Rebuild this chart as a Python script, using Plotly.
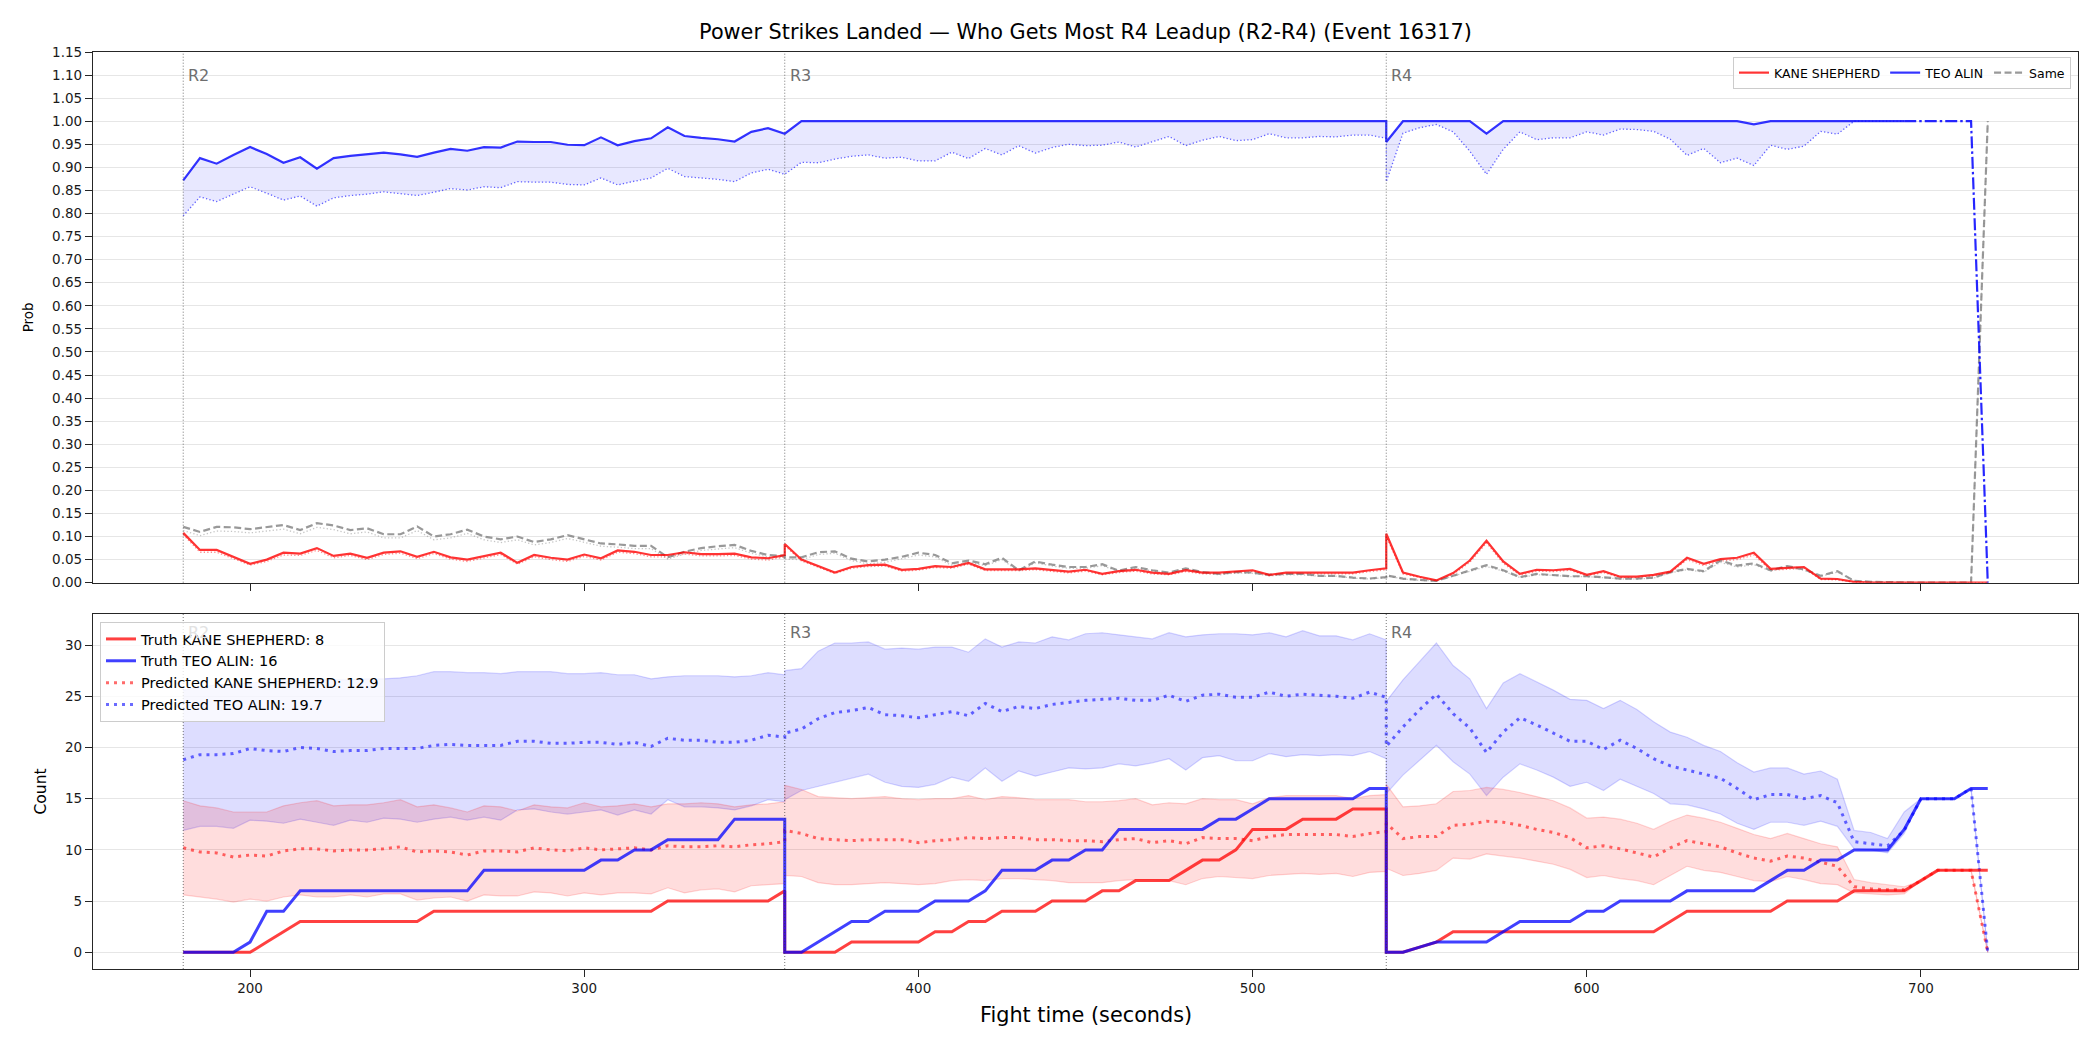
import plotly.graph_objects as go

# ---------------- time grid (three rounds, each sampled every 5 s) ----------------
t_r2 = list(range(180, 361, 5))
t_r3 = list(range(360, 541, 5))
t_r4 = list(range(540, 721, 5))
time = t_r2 + t_r3 + t_r4

# ---------------- top panel: probabilities ----------------
teo_prob_r2 = [0.872, 0.920, 0.908, 0.927, 0.944, 0.929, 0.910, 0.922, 0.897, 0.920,
               0.925, 0.928, 0.932, 0.928, 0.923, 0.932, 0.940, 0.936, 0.944, 0.943,
               0.956, 0.955, 0.955, 0.949, 0.948, 0.965, 0.948, 0.957, 0.963, 0.987,
               0.968, 0.964, 0.961, 0.956, 0.977, 0.985, 0.973]
teo_prob_r3 = [0.973] + [1.0] * 36
teo_prob_r4 = [0.955, 1.0, 1.0, 1.0, 1.0, 1.0, 0.973, 1.0, 1.0, 1.0,
               1.0, 1.0, 1.0, 1.0, 1.0, 1.0, 1.0, 1.0, 1.0, 1.0,
               1.0, 1.0, 0.993, 1.0, 1.0, 1.0, 1.0, 1.0, 1.0, 1.0,
               1.0, 1.0, 1.0, 1.0, 1.0, 1.0, 0.0]

teo_raw_r2 = [0.795, 0.836, 0.826, 0.842, 0.858, 0.844, 0.829, 0.838, 0.816, 0.834,
              0.839, 0.842, 0.847, 0.843, 0.839, 0.846, 0.854, 0.851, 0.858, 0.856,
              0.869, 0.868, 0.868, 0.863, 0.862, 0.877, 0.862, 0.870, 0.877, 0.898,
              0.880, 0.877, 0.874, 0.869, 0.888, 0.896, 0.885]
teo_raw_r3 = [0.885, 0.911, 0.910, 0.918, 0.924, 0.927, 0.920, 0.922, 0.914, 0.914,
              0.933, 0.919, 0.941, 0.927, 0.947, 0.931, 0.943, 0.950, 0.947, 0.948,
              0.955, 0.944, 0.955, 0.967, 0.947, 0.959, 0.967, 0.958, 0.960, 0.973,
              0.964, 0.964, 0.967, 0.966, 0.970, 0.970, 0.963]
teo_raw_r4 = [0.869, 0.974, 0.986, 0.993, 0.977, 0.935, 0.885, 0.939, 0.977, 0.960,
              0.964, 0.964, 0.977, 0.970, 0.983, 0.982, 0.978, 0.961, 0.926, 0.941,
              0.910, 0.920, 0.904, 0.948, 0.939, 0.946, 0.978, 0.972, 1.0, 1.0,
              1.0, 1.0, 1.0, 1.0, 1.0, 1.0, 0.0]

kane_prob_r2 = [0.108, 0.071, 0.071, 0.056, 0.041, 0.050, 0.065, 0.063, 0.075, 0.058,
                0.063, 0.054, 0.065, 0.068, 0.056, 0.067, 0.055, 0.050, 0.057, 0.065,
                0.043, 0.060, 0.054, 0.050, 0.061, 0.053, 0.070, 0.067, 0.060, 0.060,
                0.066, 0.062, 0.062, 0.063, 0.055, 0.053, 0.060]
kane_prob_r3 = [0.084, 0.050, 0.036, 0.022, 0.034, 0.038, 0.039, 0.028, 0.030, 0.036,
                0.034, 0.043, 0.029, 0.029, 0.029, 0.031, 0.027, 0.024, 0.028, 0.019,
                0.025, 0.028, 0.022, 0.019, 0.027, 0.022, 0.022, 0.025, 0.027, 0.017,
                0.022, 0.022, 0.022, 0.022, 0.022, 0.027, 0.031]
kane_prob_r4 = [0.106, 0.022, 0.013, 0.005, 0.021, 0.048, 0.091, 0.046, 0.019, 0.028,
                0.027, 0.030, 0.017, 0.025, 0.013, 0.013, 0.017, 0.024, 0.054, 0.041,
                0.051, 0.054, 0.065, 0.030, 0.032, 0.034, 0.009, 0.008, 0.002, 0.0,
                0.0, 0.0, 0.0, 0.0, 0.0, 0.0, 0.0]

kane_raw_r2 = [0.104, 0.066, 0.066, 0.052, 0.038, 0.046, 0.060, 0.059, 0.070, 0.054,
               0.059, 0.050, 0.061, 0.064, 0.052, 0.063, 0.051, 0.046, 0.053, 0.061,
               0.040, 0.056, 0.050, 0.046, 0.057, 0.049, 0.066, 0.063, 0.056, 0.056,
               0.062, 0.058, 0.058, 0.059, 0.051, 0.049, 0.056]
kane_raw_r3 = [0.080, 0.047, 0.033, 0.020, 0.031, 0.035, 0.036, 0.025, 0.027, 0.033,
               0.031, 0.040, 0.026, 0.026, 0.026, 0.028, 0.024, 0.021, 0.025, 0.017,
               0.022, 0.025, 0.019, 0.017, 0.024, 0.019, 0.019, 0.022, 0.024, 0.015,
               0.019, 0.019, 0.019, 0.019, 0.019, 0.024, 0.028]
kane_raw_r4 = [0.100, 0.019, 0.011, 0.004, 0.018, 0.044, 0.086, 0.042, 0.016, 0.025,
               0.024, 0.027, 0.015, 0.022, 0.011, 0.011, 0.015, 0.021, 0.050, 0.037,
               0.047, 0.050, 0.060, 0.027, 0.029, 0.031, 0.007, 0.006, 0.001, 0.0,
               0.0, 0.0, 0.0, 0.0, 0.0, 0.0, 0.0]

same_prob_r2 = [0.121, 0.110, 0.121, 0.120, 0.116, 0.121, 0.125, 0.114, 0.129, 0.124,
                0.114, 0.118, 0.105, 0.105, 0.122, 0.100, 0.105, 0.115, 0.100, 0.094,
                0.100, 0.088, 0.094, 0.103, 0.094, 0.085, 0.083, 0.080, 0.080, 0.055,
                0.067, 0.075, 0.079, 0.082, 0.069, 0.060, 0.058]
same_prob_r3 = [0.055, 0.055, 0.066, 0.068, 0.052, 0.046, 0.050, 0.056, 0.065, 0.060,
                0.042, 0.048, 0.040, 0.054, 0.027, 0.046, 0.039, 0.034, 0.034, 0.040,
                0.026, 0.034, 0.027, 0.022, 0.031, 0.023, 0.019, 0.023, 0.022, 0.017,
                0.019, 0.019, 0.015, 0.015, 0.011, 0.009, 0.012]
same_prob_r4 = [0.016, 0.009, 0.006, 0.004, 0.015, 0.027, 0.038, 0.027, 0.012, 0.019,
                0.017, 0.014, 0.014, 0.012, 0.009, 0.009, 0.011, 0.023, 0.030, 0.025,
                0.048, 0.037, 0.042, 0.027, 0.036, 0.029, 0.015, 0.025, 0.004, 0.002,
                0.001, 0.0, 0.0, 0.0, 0.0, 0.0, 1.0]

same_raw_r2 = [0.113, 0.102, 0.112, 0.111, 0.108, 0.112, 0.116, 0.106, 0.120, 0.115,
               0.106, 0.110, 0.097, 0.097, 0.113, 0.093, 0.097, 0.107, 0.093, 0.087,
               0.093, 0.082, 0.087, 0.096, 0.087, 0.079, 0.077, 0.074, 0.074, 0.051,
               0.062, 0.070, 0.073, 0.076, 0.064, 0.056, 0.054]
same_raw_r3 = [0.051, 0.050, 0.061, 0.064, 0.048, 0.041, 0.044, 0.052, 0.060, 0.056,
               0.037, 0.044, 0.037, 0.050, 0.025, 0.043, 0.036, 0.031, 0.031, 0.037,
               0.024, 0.031, 0.025, 0.020, 0.029, 0.021, 0.017, 0.021, 0.020, 0.015,
               0.017, 0.017, 0.014, 0.014, 0.010, 0.008, 0.011]
same_raw_r4 = [0.015, 0.008, 0.005, 0.004, 0.014, 0.025, 0.035, 0.025, 0.011, 0.017,
               0.016, 0.013, 0.013, 0.011, 0.008, 0.008, 0.010, 0.021, 0.028, 0.023,
               0.044, 0.034, 0.039, 0.025, 0.033, 0.027, 0.014, 0.023, 0.004, 0.002,
               0.001, 0.0, 0.0, 0.0, 0.0, 0.0, 1.0]

# ---------------- bottom panel: counts ----------------
truth_teo_r2 = [0, 0, 0, 0, 1, 4, 4, 6, 6, 6, 6, 6, 6, 6, 6, 6, 6, 6, 8, 8,
                8, 8, 8, 8, 8, 9, 9, 10, 10, 11, 11, 11, 11, 13, 13, 13, 13]
truth_teo_r3 = [0, 0, 1, 2, 3, 3, 4, 4, 4, 5, 5, 5, 6, 8, 8, 8, 9, 9, 10, 10,
                12, 12, 12, 12, 12, 12, 13, 13, 14, 15, 15, 15, 15, 15, 15, 16, 16]
truth_teo_r4 = [0, 0, 0.5, 1, 1, 1, 1, 2, 3, 3, 3, 3, 4, 4, 5, 5, 5, 5, 6, 6,
                6, 6, 6, 7, 8, 8, 9, 9, 10, 10, 10, 12, 15, 15, 15, 16, 16]

truth_kane_r2 = [0, 0, 0, 0, 0, 1, 2, 3, 3, 3, 3, 3, 3, 3, 3, 4, 4, 4, 4, 4,
                 4, 4, 4, 4, 4, 4, 4, 4, 4, 5, 5, 5, 5, 5, 5, 5, 6]
truth_kane_r3 = [0, 0, 0, 0, 1, 1, 1, 1, 1, 2, 2, 3, 3, 4, 4, 4, 5, 5, 5, 6,
                 6, 7, 7, 7, 8, 9, 9, 10, 12, 12, 12, 13, 13, 13, 14, 14, 14]
truth_kane_r4 = [0, 0, 0.5, 1, 2, 2, 2, 2, 2, 2, 2, 2, 2, 2, 2, 2, 2, 3, 4, 4,
                 4, 4, 4, 4, 5, 5, 5, 5, 6, 6, 6, 6, 7, 8, 8, 8, 8]

pred_teo_r2 = [18.8, 19.3, 19.3, 19.4, 19.9, 19.7, 19.6, 20.0, 19.9, 19.6,
               19.7, 19.7, 19.9, 19.9, 19.9, 20.2, 20.3, 20.2, 20.2, 20.2,
               20.6, 20.6, 20.4, 20.4, 20.5, 20.5, 20.3, 20.5, 20.1, 20.9,
               20.7, 20.7, 20.5, 20.5, 20.7, 21.2, 21.0]
pred_teo_r3 = [21.4, 21.8, 22.8, 23.4, 23.6, 23.9, 23.2, 23.1, 22.9, 23.2,
               23.5, 23.1, 24.3, 23.5, 24.0, 23.8, 24.2, 24.4, 24.6, 24.7,
               24.8, 24.6, 24.6, 25.1, 24.5, 25.1, 25.2, 24.9, 24.9, 25.4,
               25.0, 25.2, 25.1, 25.0, 24.8, 25.4, 24.9]
pred_teo_r4 = [20.1, 22.0, 23.7, 25.2, 23.3, 21.9, 19.5, 21.5, 22.9, 22.2,
               21.4, 20.6, 20.6, 19.8, 20.7, 19.9, 18.9, 18.2, 17.8, 17.4,
               17.0, 16.0, 14.9, 15.4, 15.4, 15.0, 15.3, 14.6, 10.8, 10.6,
               10.4, 11.9, 15.0, 15.0, 15.0, 16.0, 0.0]

teo_hi_r2 = [25.6, 25.9, 26.1, 26.2, 26.3, 26.4, 26.5, 26.5, 26.6, 26.6,
             26.6, 26.7, 26.7, 26.8, 27.0, 27.4, 27.4, 27.3, 27.3, 27.2,
             27.4, 27.4, 27.4, 27.2, 27.2, 27.3, 27.1, 27.1, 26.7, 26.9,
             27.0, 27.0, 27.0, 26.9, 27.0, 27.3, 27.1]
teo_hi_r3 = [27.5, 27.7, 29.4, 30.2, 30.2, 30.3, 29.6, 29.7, 29.6, 29.8,
             29.8, 29.3, 30.6, 29.8, 30.3, 30.2, 30.8, 30.5, 31.1, 31.2,
             31.0, 30.8, 30.6, 31.2, 30.8, 31.0, 31.1, 31.1, 31.0, 31.2,
             30.8, 31.4, 30.9, 30.9, 30.5, 31.1, 30.5]
teo_hi_r4 = [24.5, 26.6, 28.4, 30.2, 28.0, 26.7, 23.8, 26.3, 27.2, 26.4,
             25.6, 24.7, 24.6, 23.8, 24.6, 23.7, 22.5, 21.5, 21.0, 20.2,
             19.6, 18.5, 17.6, 18.0, 18.0, 17.4, 17.7, 16.9, 11.9, 11.7,
             11.1, 13.7, 15.0, 15.0, 15.0, 16.0, 0.0]

teo_lo_r2 = [11.9, 12.3, 12.3, 12.1, 12.9, 12.8, 12.6, 13.0, 12.7, 12.4,
             12.9, 12.7, 13.1, 13.0, 12.7, 13.0, 13.2, 12.9, 13.2, 12.9,
             13.9, 14.0, 13.7, 13.5, 13.7, 13.9, 13.4, 13.9, 13.5, 14.9,
             14.2, 14.2, 14.1, 13.9, 14.3, 14.9, 14.7]
teo_lo_r3 = [14.9, 15.8, 16.2, 16.6, 17.0, 17.4, 16.6, 16.2, 16.1, 16.4,
             17.1, 16.7, 18.0, 16.7, 17.7, 17.2, 17.6, 18.0, 17.9, 18.0,
             18.4, 18.2, 18.5, 18.9, 17.8, 19.0, 19.2, 18.7, 18.7, 19.4,
             19.1, 19.3, 19.2, 19.3, 19.2, 19.6, 18.9]
teo_lo_r4 = [15.5, 17.3, 18.8, 20.2, 18.6, 17.4, 15.3, 17.1, 18.4, 17.8,
             17.1, 16.2, 16.6, 15.8, 16.9, 16.2, 15.5, 14.5, 14.4, 14.0,
             13.5, 12.6, 12.0, 12.7, 12.7, 12.4, 12.8, 12.3, 10.1, 10.0,
             9.7, 11.6, 15.0, 15.0, 15.0, 16.0, 0.0]

pred_kane_r2 = [10.2, 9.8, 9.7, 9.3, 9.5, 9.4, 9.9, 10.1, 10.1, 9.9,
                10.0, 10.0, 10.1, 10.3, 9.8, 9.9, 9.8, 9.5, 9.9, 9.9,
                9.8, 10.2, 10.0, 9.9, 10.2, 10.0, 10.1, 10.2, 10.0, 10.4,
                10.3, 10.3, 10.4, 10.3, 10.5, 10.6, 10.8]
pred_kane_r3 = [11.9, 11.6, 11.1, 11.0, 10.9, 11.0, 11.0, 11.0, 10.7, 10.9,
                11.0, 11.2, 11.1, 11.2, 11.2, 11.0, 11.0, 10.9, 10.9, 10.8,
                11.0, 11.1, 10.7, 10.9, 10.6, 11.2, 11.1, 11.1, 10.9, 11.3,
                11.5, 11.5, 11.5, 11.5, 11.3, 11.6, 11.8]
pred_kane_r4 = [12.6, 11.1, 11.3, 11.3, 12.4, 12.5, 12.8, 12.7, 12.4, 12.0,
                11.7, 11.2, 10.2, 10.4, 10.1, 9.7, 9.3, 10.2, 10.9, 10.6,
                10.3, 9.7, 9.2, 8.9, 9.4, 9.2, 8.8, 8.4, 6.4, 6.2,
                6.1, 6.1, 7.0, 8.0, 8.0, 8.0, 0.0]

kane_hi_r2 = [14.8, 14.3, 14.1, 13.7, 13.7, 13.7, 14.3, 14.6, 14.8, 14.3,
              14.4, 14.4, 14.6, 14.9, 14.2, 14.4, 14.1, 13.7, 14.3, 14.2,
              13.8, 14.4, 14.2, 14.1, 14.6, 14.2, 14.3, 14.5, 14.2, 14.5,
              14.5, 14.6, 14.5, 14.2, 14.4, 14.5, 14.7]
kane_hi_r3 = [16.3, 15.9, 15.2, 15.1, 15.0, 15.1, 15.2, 15.0, 14.9, 15.0,
              15.0, 15.3, 14.9, 15.2, 15.1, 14.9, 14.9, 14.9, 14.7, 14.7,
              14.8, 15.0, 14.4, 14.6, 14.5, 15.0, 14.9, 14.9, 14.5, 15.1,
              15.3, 15.3, 15.3, 15.3, 15.0, 15.3, 15.4]
kane_hi_r4 = [16.4, 14.2, 14.3, 14.5, 15.7, 15.8, 16.1, 15.9, 15.6, 15.2,
              14.8, 14.1, 13.1, 13.2, 13.0, 12.6, 12.0, 12.8, 13.4, 13.1,
              12.7, 12.1, 11.5, 11.1, 11.6, 11.1, 10.6, 10.3, 7.1, 6.8,
              6.6, 6.4, 7.0, 8.0, 8.0, 8.0, 0.0]

kane_lo_r2 = [5.6, 5.4, 5.2, 4.9, 5.2, 5.0, 5.4, 5.6, 5.4, 5.4,
              5.6, 5.4, 5.7, 5.7, 5.1, 5.3, 5.4, 5.0, 5.6, 5.5,
              5.5, 5.9, 5.8, 5.5, 5.8, 5.6, 5.8, 5.8, 5.7, 6.3,
              5.8, 6.1, 6.2, 5.9, 6.5, 6.6, 6.7]
kane_lo_r3 = [7.5, 7.4, 6.8, 6.6, 6.6, 6.7, 6.8, 6.7, 6.6, 6.7,
              7.0, 7.1, 7.0, 7.2, 7.2, 7.1, 7.0, 6.8, 6.8, 6.8,
              7.0, 7.1, 7.1, 7.0, 6.6, 7.2, 7.4, 7.3, 7.2, 7.5,
              7.6, 7.7, 7.6, 7.7, 7.4, 7.8, 7.9]
kane_lo_r4 = [8.2, 7.5, 7.7, 8.0, 9.2, 9.1, 9.6, 9.4, 9.2, 8.9,
              8.6, 8.1, 7.3, 7.5, 7.2, 7.0, 6.6, 7.5, 8.4, 8.0,
              7.8, 7.4, 7.0, 6.9, 7.4, 7.1, 6.7, 6.6, 5.8, 5.7,
              5.6, 5.7, 7.0, 8.0, 8.0, 8.0, 0.0]

round_starts = [180, 360, 540]
round_names = ["R2", "R3", "R4"]
prob_ticks = [0.0, 0.05, 0.10, 0.15, 0.20, 0.25, 0.30, 0.35, 0.40, 0.45, 0.50, 0.55,
              0.60, 0.65, 0.70, 0.75, 0.80, 0.85, 0.90, 0.95, 1.00, 1.05, 1.10, 1.15]
count_ticks = [0, 5, 10, 15, 20, 25, 30]
x_ticks = [200, 300, 400, 500, 600, 700]

title_text = "Power Strikes Landed \u2014 Who Gets Most R4 Leadup (R2-R4) (Event 16317)"
fighter_a = "KANE SHEPHERD"
fighter_b = "TEO ALIN"
truth_a_final = 8
truth_b_final = 16
pred_a_final = 12.9
pred_b_final = 19.7

# ---------------- assemble ----------------
teo_prob = teo_prob_r2 + teo_prob_r3 + teo_prob_r4
teo_raw = teo_raw_r2 + teo_raw_r3 + teo_raw_r4
kane_prob = kane_prob_r2 + kane_prob_r3 + kane_prob_r4
kane_raw = kane_raw_r2 + kane_raw_r3 + kane_raw_r4
same_prob = same_prob_r2 + same_prob_r3 + same_prob_r4
same_raw = same_raw_r2 + same_raw_r3 + same_raw_r4
truth_teo = truth_teo_r2 + truth_teo_r3 + truth_teo_r4
truth_kane = truth_kane_r2 + truth_kane_r3 + truth_kane_r4
pred_teo = pred_teo_r2 + pred_teo_r3 + pred_teo_r4
pred_kane = pred_kane_r2 + pred_kane_r3 + pred_kane_r4
teo_hi = teo_hi_r2 + teo_hi_r3 + teo_hi_r4
teo_lo = teo_lo_r2 + teo_lo_r3 + teo_lo_r4
kane_hi = kane_hi_r2 + kane_hi_r3 + kane_hi_r4
kane_lo = kane_lo_r2 + kane_lo_r3 + kane_lo_r4

FONT = "DejaVu Sans"
W, H = 2100, 1050
ML, MR, MT, MB = 93, 22, 52, 81
PH = H - MT - MB
top_dom = [(H - MB - 582.7) / PH, 1.0]
bot_dom = [0.0, (H - MB - 614.0) / PH]

# split of the TEO probability line: solid until 695 s, dash-dot afterwards
cut = time.index(695, len(t_r2) + len(t_r3))

fig = go.Figure()

# --- top panel ---
fig.add_trace(go.Scatter(x=time[:cut + 1], y=teo_raw[:cut + 1], mode="lines",
                         line=dict(color="rgba(0,0,255,0.6)", width=1.3, dash="1.3px,2.2px"),
                         showlegend=False, hoverinfo="skip", xaxis="x", yaxis="y"))
fig.add_trace(go.Scatter(x=time[:cut + 1], y=teo_prob[:cut + 1], mode="lines",
                         line=dict(width=0, color="rgba(0,0,255,0)"), fill="tonexty",
                         fillcolor="rgba(0,0,255,0.09)",
                         showlegend=False, hoverinfo="skip", xaxis="x", yaxis="y"))
fig.add_trace(go.Scatter(x=time, y=same_raw, mode="lines",
                         line=dict(color="rgba(128,128,128,0.45)", width=1.3, dash="1.3px,2.2px"),
                         showlegend=False, xaxis="x", yaxis="y"))
fig.add_trace(go.Scatter(x=time, y=kane_raw, mode="lines",
                         line=dict(color="rgba(255,0,0,0.45)", width=1.3, dash="1.3px,2.2px"),
                         showlegend=False, xaxis="x", yaxis="y"))
fig.add_trace(go.Scatter(x=time, y=same_prob, mode="lines", name="Same",
                         line=dict(color="rgba(128,128,128,0.8)", width=2.2, dash="7px,3.5px"),
                         legend="legend2", legendrank=3, xaxis="x", yaxis="y"))
fig.add_trace(go.Scatter(x=time, y=kane_prob, mode="lines", name=fighter_a,
                         line=dict(color="rgba(255,0,0,0.8)", width=2.2),
                         legend="legend2", legendrank=1, xaxis="x", yaxis="y"))
fig.add_trace(go.Scatter(x=time[:cut + 1], y=teo_prob[:cut + 1], mode="lines", name=fighter_b,
                         line=dict(color="rgba(0,0,255,0.8)", width=2.2),
                         legend="legend2", legendrank=2, xaxis="x", yaxis="y"))
fig.add_trace(go.Scatter(x=time[cut:], y=teo_prob[cut:], mode="lines",
                         line=dict(color="rgba(0,0,255,0.85)", width=2.2, dash="12px,3px,2.5px,3px"),
                         showlegend=False, xaxis="x", yaxis="y"))

# --- bottom panel ---
band_edge_b = "rgba(0,0,255,0.16)"
band_edge_r = "rgba(255,0,0,0.16)"
fig.add_trace(go.Scatter(x=time, y=teo_lo, mode="lines", line=dict(color=band_edge_b, width=1.2),
                         showlegend=False, hoverinfo="skip", xaxis="x2", yaxis="y2"))
fig.add_trace(go.Scatter(x=time, y=teo_hi, mode="lines", line=dict(color=band_edge_b, width=1.2),
                         fill="tonexty", fillcolor="rgba(0,0,255,0.135)",
                         showlegend=False, hoverinfo="skip", xaxis="x2", yaxis="y2"))
fig.add_trace(go.Scatter(x=time, y=kane_lo, mode="lines", line=dict(color=band_edge_r, width=1.2),
                         showlegend=False, hoverinfo="skip", xaxis="x2", yaxis="y2"))
fig.add_trace(go.Scatter(x=time, y=kane_hi, mode="lines", line=dict(color=band_edge_r, width=1.2),
                         fill="tonexty", fillcolor="rgba(255,0,0,0.135)",
                         showlegend=False, hoverinfo="skip", xaxis="x2", yaxis="y2"))
fig.add_trace(go.Scatter(x=time, y=pred_kane, mode="lines",
                         name=f"Predicted {fighter_a}: {pred_a_final}",
                         line=dict(color="rgba(255,0,0,0.58)", width=3, dash="3px,5px"),
                         legend="legend", legendrank=3, xaxis="x2", yaxis="y2"))
fig.add_trace(go.Scatter(x=time, y=pred_teo, mode="lines",
                         name=f"Predicted {fighter_b}: {pred_b_final}",
                         line=dict(color="rgba(0,0,255,0.58)", width=3, dash="3px,5px"),
                         legend="legend", legendrank=4, xaxis="x2", yaxis="y2"))
fig.add_trace(go.Scatter(x=time, y=truth_kane, mode="lines",
                         name=f"Truth {fighter_a}: {truth_a_final}",
                         line=dict(color="rgba(255,0,0,0.75)", width=3),
                         legend="legend", legendrank=1, xaxis="x2", yaxis="y2"))
fig.add_trace(go.Scatter(x=time, y=truth_teo, mode="lines",
                         name=f"Truth {fighter_b}: {truth_b_final}",
                         line=dict(color="rgba(0,0,255,0.75)", width=3),
                         legend="legend", legendrank=2, xaxis="x2", yaxis="y2"))

# --- round markers ---
shapes = []
annotations = []
for xs, name in zip(round_starts, round_names):
    for xr, yr in (("x", "y domain"), ("x2", "y2 domain")):
        shapes.append(dict(type="line", xref=xr, yref=yr, x0=xs, x1=xs, y0=0, y1=1,
                           line=dict(color="rgba(60,60,60,0.7)", width=1, dash="1px,2px"),
                           layer="above"))
    annotations.append(dict(x=xs, y=1.10, xref="x", yref="y", text=name, showarrow=False,
                            xanchor="left", yanchor="middle", xshift=3,
                            font=dict(size=16, color="#6e6e6e", family=FONT)))
    annotations.append(dict(x=xs, y=31.2, xref="x2", yref="y2", text=name, showarrow=False,
                            xanchor="left", yanchor="middle", xshift=3,
                            font=dict(size=16, color="#6e6e6e" if xs != 180 else "#e2e2e2", family=FONT)))

annotations += [
    dict(text="Prob", x=(28 - ML) / (W - ML - MR), y=(top_dom[0] + top_dom[1]) / 2,
         xref="paper", yref="paper", textangle=-90, showarrow=False,
         xanchor="center", yanchor="middle", font=dict(size=13.5, family=FONT, color="#000")),
    dict(text="Count", x=(40 - ML) / (W - ML - MR), y=(bot_dom[0] + bot_dom[1]) / 2,
         xref="paper", yref="paper", textangle=-90, showarrow=False,
         xanchor="center", yanchor="middle", font=dict(size=15.5, family=FONT, color="#000")),
    dict(text="Fight time (seconds)", x=0.5, y=(H - MB - 1015) / PH,
         xref="paper", yref="paper", showarrow=False,
         xanchor="center", yanchor="middle", font=dict(size=20.8, family=FONT, color="#000")),
]

axis_common = dict(showline=True, linecolor="#262626", linewidth=1.3, mirror=True,
                   ticks="outside", ticklen=7, tickwidth=1.3, tickcolor="#262626",
                   zeroline=False, tickfont=dict(size=13.5, family=FONT, color="#1a1a1a"))

fig.update_layout(
    width=W, height=H,
    margin=dict(l=ML, r=MR, t=MT, b=MB),
    paper_bgcolor="white", plot_bgcolor="white",
    font=dict(family=FONT, color="#000"),
    title=dict(text=title_text, x=0.5, xref="paper", xanchor="center",
               y=1 - 31.4 / H, yref="container", yanchor="middle",
               font=dict(size=20.8, family=FONT, color="#000")),
    xaxis=dict(domain=[0, 1], anchor="y", range=[153, 747], tickvals=x_ticks,
               showticklabels=False, showgrid=False, **axis_common),
    yaxis=dict(domain=top_dom, anchor="x", range=[0, 1.15], tickvals=prob_ticks,
               ticktext=[f"{v:.2f}" for v in prob_ticks], showgrid=True,
               gridcolor="#e6e6e6", gridwidth=1.2, **axis_common),
    xaxis2=dict(domain=[0, 1], anchor="y2", range=[153, 747], tickvals=x_ticks,
                showgrid=False, **axis_common),
    yaxis2=dict(domain=bot_dom, anchor="x2", range=[-1.63, 33.03], tickvals=count_ticks,
                showgrid=True, gridcolor="#e6e6e6", gridwidth=1.2, **axis_common),
    legend=dict(x=(100 - ML) / (W - ML - MR), y=bot_dom[1] - 8 / PH, xanchor="left", yanchor="top",
                bgcolor="rgba(255,255,255,0.8)", bordercolor="#cccccc", borderwidth=1,
                font=dict(size=14.5, family=FONT, color="#000"), traceorder="normal"),
    legend2=dict(x=(2071 - ML) / (W - ML - MR), y=1 - 5 / PH, xanchor="right", yanchor="top",
                 orientation="h", bgcolor="rgba(255,255,255,0.8)", bordercolor="#cccccc",
                 borderwidth=1, font=dict(size=12.5, family=FONT, color="#000"),
                 traceorder="normal"),
    shapes=shapes,
    annotations=annotations,
    showlegend=True,
)

fig.write_html("out.html")
